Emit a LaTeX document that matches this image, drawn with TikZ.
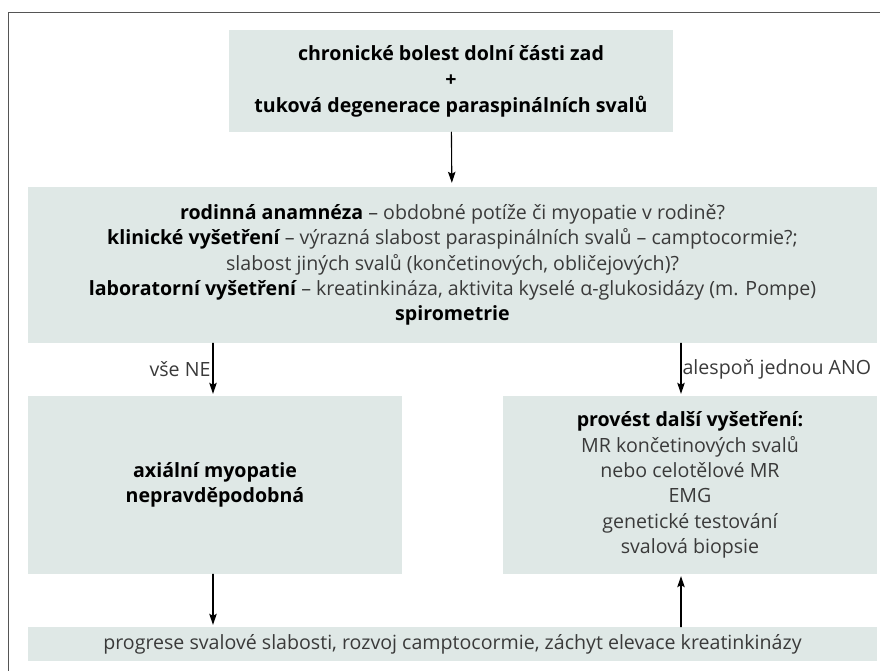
\documentclass[tikz,border=0pt]{standalone}
\usepackage{fontspec}
\setmainfont{Open Sans}
\usetikzlibrary{arrows.meta,positioning}
\definecolor{boxfill}{HTML}{DFE8E6}
\definecolor{textgray}{HTML}{3A3A3A}
\definecolor{framegray}{HTML}{555555}
\tikzset{
	flowbox/.style={fill=boxfill, inner sep=0pt, align=center, text=textgray,
		font=\fontsize{19.6}{25.3}\selectfont},
	flowarrow/.style={-{Stealth[length=11pt,width=7.5pt,inset=2pt]}, line width=1.1pt, black},
	branchlabel/.style={text=textgray, font=\fontsize{19.6}{22}\selectfont, inner sep=2pt}
}
\newcommand{\hl}[1]{\textbf{\color{black}#1}}
\begin{document}
\begin{tikzpicture}[x=1pt, y=-1pt, line cap=round, line join=round]
	\useasboundingbox (0,0) rectangle (880,671);
	% ramecek (jen levy a horni okraj)
	\draw[framegray, line width=1pt] (8,671) -- (8,13) -- (880,13);
	% boxy
	\node[flowbox, minimum width=444pt, minimum height=102pt, font=\fontsize{19.6}{26}\selectfont] (vstup) at (451,81)
		{\hl{chronické bolest dolní části zad}\\ \hl{+}\\ \hl{tuková degenerace paraspinálních svalů}};
	\node[flowbox, minimum width=849pt, minimum height=156pt] (anamneza) at (452.5,265)
		{\hl{rodinná anamnéza} – obdobné potíže či myopatie v rodině?\\
		 \hl{klinické vyšetření} – výrazná slabost paraspinálních svalů – camptocormie?;\\
		 slabost jiných svalů (končetinových, obličejových)?\\
		 \hl{laboratorní vyšetření} – kreatinkináza, aktivita kyselé α-glukosidázy (m. Pompe)\\
		 \hl{spirometrie}};
	\node[flowbox, minimum width=374pt, minimum height=178pt] (nepravd) at (215,485)
		{\hl{axiální myopatie}\\ \hl{nepravděpodobná}};
	\node[flowbox, minimum width=374pt, minimum height=178pt] (dalsi) at (690,485)
		{\hl{provést další vyšetření:}\\ MR končetinových svalů\\ nebo celotělové MR\\ EMG\\
		 genetické testování\\ svalová biopsie};
	\node[flowbox, minimum width=849pt, minimum height=34pt] (progrese) at (452.5,644)
		{progrese svalové slabosti, rozvoj camptocormie, záchyt elevace kreatinkinázy};
	% sipky
	\draw[flowarrow, shorten >=4pt] (vstup) -- (anamneza);
	\draw[flowarrow, shorten >=2pt] ([xshift=-2pt]nepravd.north |- anamneza.south)
		-- node[branchlabel, left]{vše NE} ([xshift=-2pt]nepravd.north);
	\draw[flowarrow, shorten >=2pt] ([xshift=-9pt]dalsi.north |- anamneza.south)
		-- node[branchlabel, right, inner sep=1pt]{alespoň jednou ANO} ([xshift=-9pt]dalsi.north);
	\draw[flowarrow, shorten >=2pt] ([xshift=-2pt]nepravd.south)
		-- ([xshift=-2pt]nepravd.south |- progrese.north);
	\draw[flowarrow, shorten >=2pt] ([xshift=-9pt]dalsi.south |- progrese.north)
		-- ([xshift=-9pt]dalsi.south);
\end{tikzpicture}
\end{document}
